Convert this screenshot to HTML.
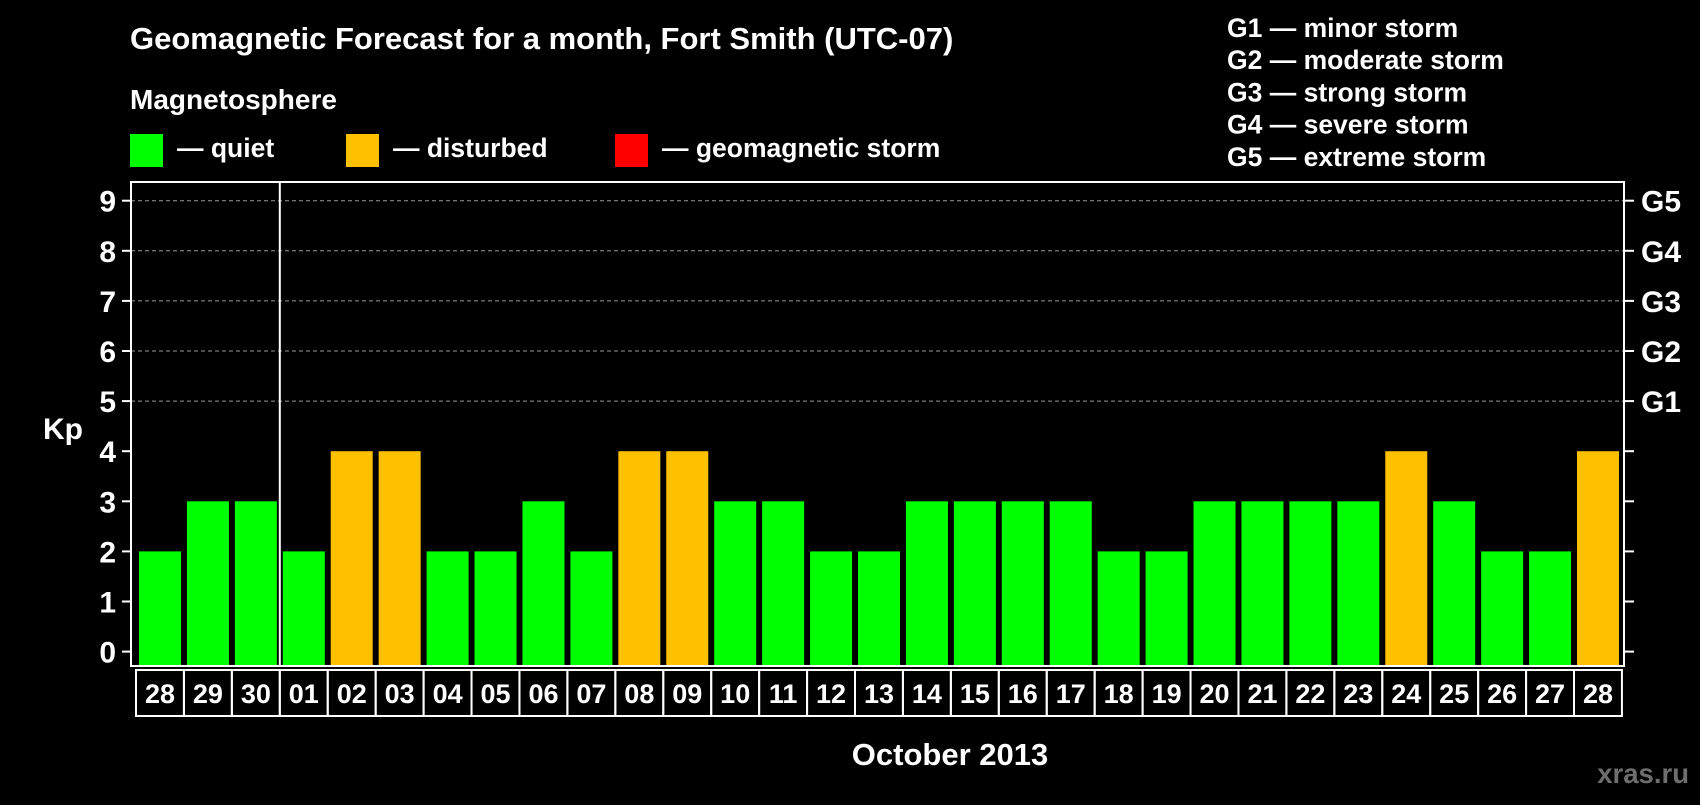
<!DOCTYPE html>
<html><head><meta charset="utf-8"><style>
body{margin:0;background:#000;width:1700px;height:800px;overflow:hidden;font-family:"Liberation Sans",sans-serif;}
svg text{font-family:"Liberation Sans",sans-serif;font-weight:bold;fill:#fff;}
</style></head><body>
<svg width="1700" height="800" xmlns="http://www.w3.org/2000/svg">
<g id="root"></g>
</svg>
<script>
const days=["28","29","30","01","02","03","04","05","06","07","08","09","10","11","12","13","14","15","16","17","18","19","20","21","22","23","24","25","26","27","28"];
const kp=[2,3,3,2,4,4,2,2,3,2,4,4,3,3,2,2,3,3,3,3,2,2,3,3,3,3,4,3,2,2,4];
const yTicks=[0,1,2,3,4,5,6,7,8,9];
const gLabels=["G1","G2","G3","G4","G5"];
const gLevels=[5,6,7,8,9];
const NS="http://www.w3.org/2000/svg";
const root=document.getElementById('root');
function el(tag,attrs,text){const e=document.createElementNS(NS,tag);for(const k in attrs)e.setAttribute(k,attrs[k]);if(text!==undefined)e.textContent=text;root.appendChild(e);return e;}
const L=131,R=1624,T=182,B=666;
const y=v=>651.6-v*50.1;
const pitch=(1577-139)/(days.length-1);
const x=i=>139+i*pitch;
let t=el('text',{x:130,y:49,'font-size':31},'Geomagnetic Forecast for a month, Fort Smith (UTC-07)');

t=el('text',{x:130,y:109,'font-size':28},'Magnetosphere');

const leg=[["#00ff00","— quiet",130],["#ffc000","— disturbed",346],["#ff0000","— geomagnetic storm",615]];
leg.forEach(l=>{let r=el('rect',{x:l[2],y:134,width:33,height:33,fill:l[0]});

let tt=el('text',{x:l[2]+47,y:157,'font-size':26.5},l[1]);
});
const gl=["G1 — minor storm","G2 — moderate storm","G3 — strong storm","G4 — severe storm","G5 — extreme storm"];
gl.forEach((s,i)=>{let tt=el('text',{x:1227,y:37+i*32.2,'font-size':26.5},s);
});
yTicks.forEach(v=>{if(v>=5){let g=el('line',{x1:L,x2:R,y1:y(v),y2:y(v),stroke:'#999','stroke-dasharray':'4,3','stroke-width':1});
}
let tk=el('line',{x1:122,x2:L,y1:y(v),y2:y(v),stroke:'#fff','stroke-width':2});

let lb=el('text',{x:116,y:y(v)+11,'font-size':30,'text-anchor':'end'},String(v));

let tk2=el('line',{x1:R,x2:1634,y1:y(v),y2:y(v),stroke:'#fff','stroke-width':2});
});
gLevels.forEach((v,i)=>{let lb=el('text',{x:1641,y:y(v)+11,'font-size':30},gLabels[i]);
});
kp.forEach((v,i)=>{let b=el('rect',{x:x(i),y:y(v),width:42,height:B-y(v)-1,fill:v>=5?'#ff0000':(v>=4?'#ffc000':'#00ff00')});

let c=el('rect',{x:x(i)-3,y:670,width:pitch,height:46,fill:'none',stroke:'#fff','stroke-width':2});

let lb=el('text',{x:x(i)+21,y:703,'font-size':27,'text-anchor':'middle'},days[i]);
});
let f=el('rect',{x:L,y:T,width:R-L,height:B-T,fill:'none',stroke:'#fff','stroke-width':2});

let sp=el('line',{x1:x(3)-3,x2:x(3)-3,y1:T,y2:B,stroke:'#fff','stroke-width':2});

let yt=el('text',{x:43,y:439,'font-size':30},'Kp');

let xt=el('text',{x:950,y:765,'font-size':31,'text-anchor':'middle'},'October 2013');

let wm=el('text',{x:1689,y:783,'font-size':27.5,'text-anchor':'end',style:'fill:#6e6e6e'},'xras.ru');

</script>
</body></html>
